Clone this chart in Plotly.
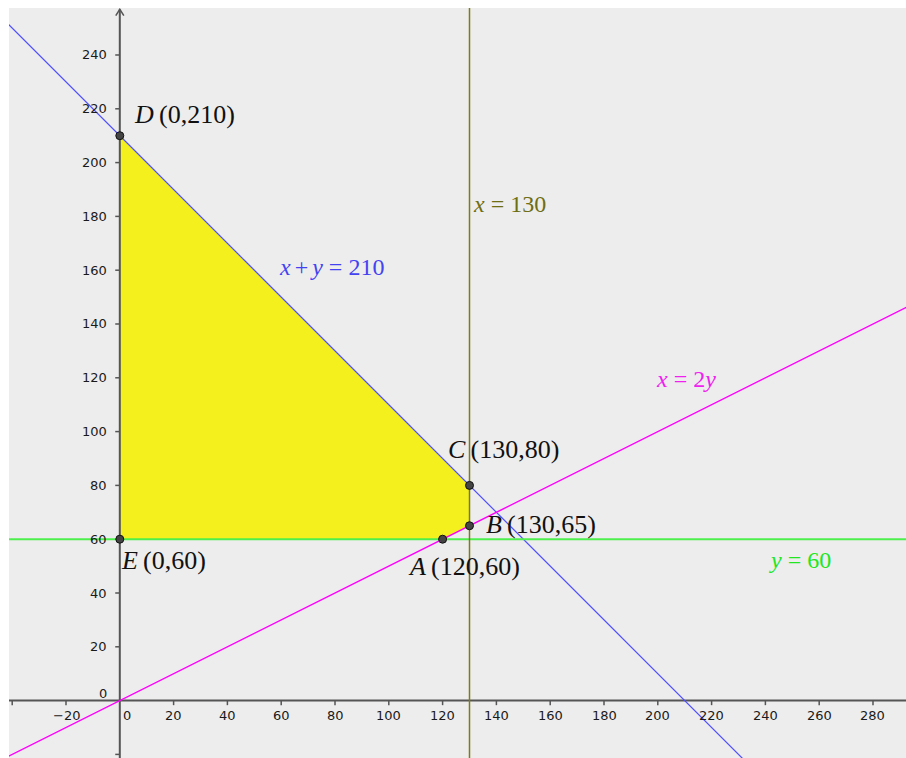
import plotly.graph_objects as go

# ---- data ----
region_x = [0, 0, 130, 130, 120, 0]
region_y = [60, 210, 80, 65, 60, 60]

point_names = ["A", "B", "C", "D", "E"]
point_x = [120, 130, 130, 0, 0]
point_y = [60, 65, 80, 210, 60]

# lines: a*x + b*y = c
line_names = ["x+y=210", "x=2y", "y=60", "x=130"]
line_a = [1, 1, 0, 1]
line_b = [1, -2, 1, 0]
line_c = [210, 0, 60, 130]

xtick_vals = [-40, -20, 0, 20, 40, 60, 80, 100, 120, 140, 160, 180, 200, 220, 240, 260, 280]
xtick_labels = ["", "−20", "0", "20", "40", "60", "80", "100", "120", "140", "160", "180", "200", "220", "240", "260", "280"]
ytick_vals = [-20, 0, 20, 40, 60, 80, 100, 120, 140, 160, 180, 200, 220, 240]
ytick_labels = ["", "0", "20", "40", "60", "80", "100", "120", "140", "160", "180", "200", "220", "240"]

XR = [-41.19, 292.27]
YR = [-21.34, 257.47]

line_colors = ["#4f4fff", "#ff00ff", "#4cef4c", "#7d7d18"]
text_colors = ["#4343f2", "#f020f0", "#22e622", "#6e6e12"]
line_widths = [1.2, 1.5, 2, 1.5]
label_pos = [(58.3, 161.2), (198.6, 119.5), (240.6, 52.2), (130.5, 184.6)]
s1 = "\u2006"
s2 = "\u2005"
label_html = [f"<i>x</i>{s1}+{s1}<i>y</i>{s2}={s2}210", f"<i>x</i>{s2}={s2}2<i>y</i>",
              f"<i>y</i>{s2}={s2}60", f"<i>x</i>{s2}={s2}130"]

pt_label_pos = {"A": (106.4, 49.8), "B": (135.4, 65.3), "C": (121.3, 93.2),
                "D": (4.55, 217.7), "E": (-0.3, 51.9)}

fig = go.Figure()

# feasible region
fig.add_trace(go.Scatter(x=region_x, y=region_y, mode="lines", fill="toself",
                         fillcolor="#f3f01e", line=dict(width=0), hoverinfo="skip"))

# axes
axis_col = "#555555"
fig.add_trace(go.Scatter(x=[XR[0], XR[1]], y=[0, 0], mode="lines",
                         line=dict(color=axis_col, width=2), hoverinfo="skip"))
fig.add_trace(go.Scatter(x=[0, 0], y=[YR[0], 257.0], mode="lines",
                         line=dict(color=axis_col, width=2), hoverinfo="skip"))
fig.add_trace(go.Scatter(x=[-1.5, 0, 1.5], y=[254.6, 257.0, 254.6], mode="lines",
                         line=dict(color=axis_col, width=1.5), hoverinfo="skip"))
# tick marks
tx, ty = [], []
for v in xtick_vals:
    if v == 0:
        continue
    tx += [v, v, None]
    ty += [0, -1.7, None]
for v in ytick_vals:
    if v == 0:
        continue
    tx += [0, -1.7, None]
    ty += [v, v, None]
fig.add_trace(go.Scatter(x=tx, y=ty, mode="lines", line=dict(color=axis_col, width=1.5),
                         hoverinfo="skip"))

# constraint lines
for a, b, c, col, w in zip(line_a, line_b, line_c, line_colors, line_widths):
    if b == 0:
        xs = [c / a, c / a]
        ys = [YR[0] - 5, YR[1] + 5]
    else:
        xs = [XR[0] - 5, XR[1] + 5]
        ys = [(c - a * x) / b for x in xs]
    fig.add_trace(go.Scatter(x=xs, y=ys, mode="lines", line=dict(color=col, width=w),
                             hoverinfo="skip"))

# points
fig.add_trace(go.Scatter(x=point_x, y=point_y, mode="markers",
                         marker=dict(size=8, color="#444444", line=dict(color="#111111", width=1)),
                         hoverinfo="skip"))

ann = []
tick_font = dict(family="DejaVu Sans", size=13, color="#1a1a1a")
for v, lab in zip(xtick_vals, xtick_labels):
    if not lab:
        continue
    ann.append(dict(x=v + (2.8 if v == 0 else 0), y=-5.4, text=lab, showarrow=False,
                    xanchor="center", yanchor="middle", font=tick_font))
for v, lab in zip(ytick_vals, ytick_labels):
    if not lab:
        continue
    ann.append(dict(x=-3.9, y=v + (2.6 if v == 0 else 0), text=lab, showarrow=False,
                    xanchor="right", yanchor="middle", font=tick_font))

math_font = "Liberation Serif"
for (lx, ly), html, col in zip(label_pos, label_html, text_colors):
    ann.append(dict(x=lx, y=ly, text=html, showarrow=False, xanchor="left", yanchor="middle",
                    font=dict(family=math_font, size=24, color=col)))
for name, px, py in zip(point_names, point_x, point_y):
    lx, ly = pt_label_pos[name]
    ann.append(dict(x=lx, y=ly, text=f"<i>{name}</i>\u2009({px},{py})", showarrow=False,
                    xanchor="left", yanchor="middle",
                    font=dict(family=math_font, size=26, color="#111111")))

fig.update_layout(
    width=906, height=758,
    margin=dict(l=9, r=0, t=8, b=0),
    paper_bgcolor="white", plot_bgcolor="#ededed",
    showlegend=False,
    xaxis=dict(range=XR, visible=False, showgrid=False, zeroline=False, fixedrange=True),
    yaxis=dict(range=YR, visible=False, showgrid=False, zeroline=False, fixedrange=True),
    annotations=ann,
)

fig.write_html(
    "out.html",
    config={"displayModeBar": False, "staticPlot": True},
    post_script="document.body.style.margin='0';document.documentElement.style.overflow='hidden';",
)
